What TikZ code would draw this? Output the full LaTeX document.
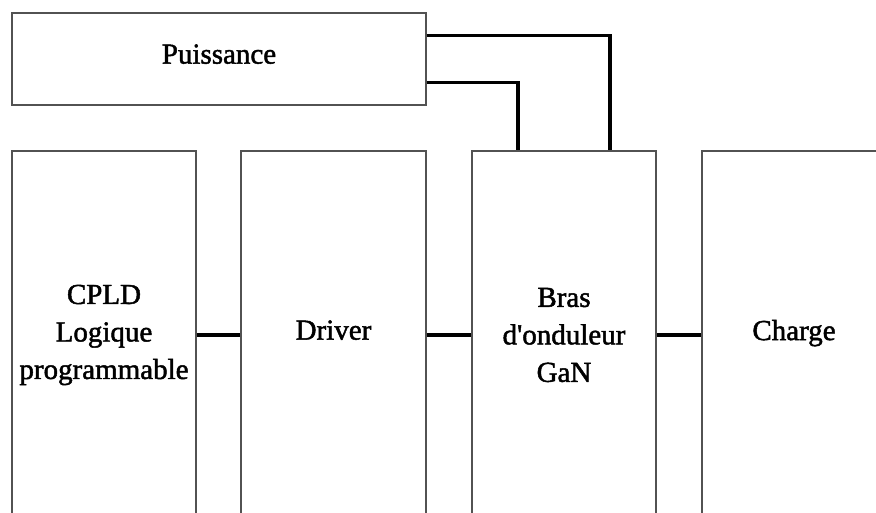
\documentclass[tikz,border=0pt]{standalone}
\usepackage{fontspec}
\newfontfamily\labelfont{Liberation Serif}[FakeBold=1.6]
\begin{document}
\begin{tikzpicture}[x=1pt,y=-1pt,
  blk/.style={draw=black!68,line width=1.1pt,fill=white,inner sep=0pt,
    align=center,font=\labelfont\fontsize{29}{37.5}\selectfont},
  one/.style={text depth=10pt},
  conn/.style={draw=black,line width=3.6pt}]
\useasboundingbox (0,0) rectangle (876,512);
\clip (0,0) rectangle (876,512);
\node[blk,one,minimum width=414pt,minimum height=92pt] (P) at (219,59) {Puissance};
\node[blk,minimum width=184pt,minimum height=368pt] (B1) at (104,335) {CPLD\\Logique\\programmable};
\node[blk,one,minimum width=185pt,minimum height=368pt] (B2) at (333.5,335) {Driver};
\node[blk,minimum width=184pt,minimum height=368pt] (B3) at (564,335) {Bras\\d'onduleur\\GaN};
\node[blk,one,minimum width=184pt,minimum height=368pt] (B4) at (794,335) {Charge};
\draw[conn] ([yshift=-23pt]P.north east) -| ([xshift=46pt]B3.north);
\draw[conn] ([yshift=23pt]P.south east) -| ([xshift=-46pt]B3.north);
\draw[conn] (B1.east) -- (B2.west);
\draw[conn] (B2.east) -- (B3.west);
\draw[conn] (B3.east) -- (B4.west);
\end{tikzpicture}
\end{document}
